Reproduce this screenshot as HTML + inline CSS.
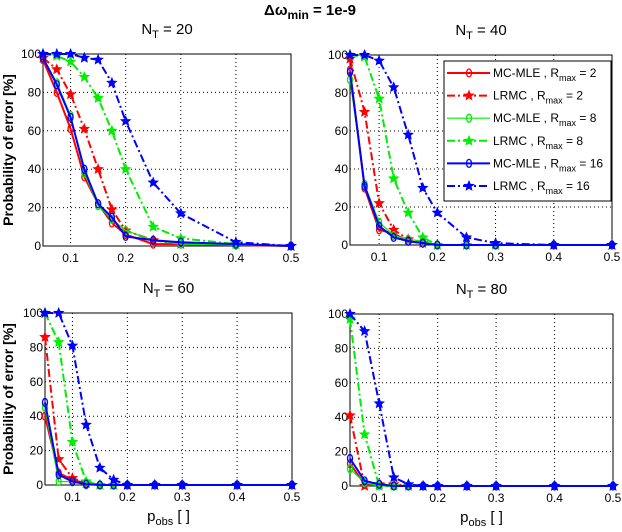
<!DOCTYPE html>
<html><head><meta charset="utf-8">
<style>
html,body{margin:0;padding:0;background:#fff;}
svg{display:block;font-family:"Liberation Sans",sans-serif;}
.tick{font-size:12px;fill:#000;}
.ttl{font-size:15px;font-weight:bold;}
.lbl{font-size:14px;font-weight:bold;}
.ptl{font-size:15px;}
.leg{font-size:12px;}
</style></head>
<body>
<svg id="chart" width="622" height="532" viewBox="0 0 622 532" xmlns="http://www.w3.org/2000/svg">
<text x="310" y="15" text-anchor="middle" class="ttl">Δω<tspan dy="4" font-size="12">min</tspan><tspan dy="-4"> = 1e-9</tspan></text>
</svg>
<script>
const xVals=[0.05,0.075,0.1,0.125,0.15,0.175,0.2,0.25,0.3,0.4,0.5];
const seriesNames=["MC-MLE , R","LRMC , R","MC-MLE , R","LRMC , R","MC-MLE , R","LRMC , R"];
const seriesR=["2","2","8","8","16","16"];
const panelTitles=["20","40","60","80"];
const yTicks=[0,20,40,60,80,100];
const xTicks=[0.1,0.2,0.3,0.4,0.5];
const p20=[[97,80,61,36,22,12,6,1,1,0.5,0],[98,92,79,61,40,19,8,3,1,1,0],[98,85,68,38,21,14,8,3,1,0.5,0],[100,99,96,88,77,60,40,10,4,1,0],[98,84,67,40,22,15,5,3,2,1,0],[100,100,100,98,97,85,65,33,17,2,0]];
const p40=[[92,30,8,6,2,1,0,0,0,0,0],[98,70,22,8,3,1,0,0,0,0,0],[87,32,12,5,3,2,0,0,0,0,0],[100,99,77,35,17,4,0,0,0,0,0],[91,31,10,4,2,1,0,0,0,0,0],[100,100,97,83,58,30,17,4,1,0,0]];
const p60=[[40,7,3,1,0,0,0,0,0,0,0],[86,15,4,1,0,0,0,0,0,0,0],[45,2,2,0,0,0,0,0,0,0,0],[100,83,25,2,0,0,0,0,0,0,0],[48,6,2,0.5,0,0,0,0,0,0,0],[100,100,81,35,10,3,0,0,0,0,0]];
const p80=[[13,1,1,0,0,0,0,0,0,0,0],[41,0,1,1,0,0,0,0,0,0,0],[10,2,0,0,0,0,0,0,0,0,0],[97,30,0,0,0,0,0,0,0,0,0],[16,3,1,0,0,0,0,0,0,0,0],[100,90,48,5,1,0,0,0,0,0,0]];
const panelData=[p20,p40,p60,p80];
const colors=["#ff0000","#ff0000","#00ee00","#00ee00","#0000ff","#0000ff"];
const boxes=[{x0:43,x1:291,y0:54,y1:246},{x0:350,x1:612,y0:55,y1:245},{x0:45,x1:292,y0:313,y1:485},{x0:350,x1:613,y0:314,y1:486}];
const NS="http://www.w3.org/2000/svg";
const svg=document.getElementById('chart');
function mk(t,a,p){const e=document.createElementNS(NS,t);for(const k in a)e.setAttribute(k,a[k]);(p||svg).appendChild(e);return e;}
function star(cx,cy,r){let s="";for(let i=0;i<10;i++){const a=-Math.PI/2+i*Math.PI/5;const rr=i%2?r*0.45:r;s+=(i?"L":"M")+(cx+rr*Math.cos(a)).toFixed(1)+","+(cy+rr*Math.sin(a)).toFixed(1);}return s+"Z";}
function marker(g,i,cx,cy){
  if(i%2===0){const m=mk('ellipse',{cx:cx,cy:cy,rx:2.5,ry:4,fill:'none',stroke:colors[i],'stroke-width':1.3},g);}
  else{const m=mk('path',{d:star(cx,cy,5),fill:colors[i],stroke:colors[i],'stroke-width':0.8},g);}
}
function dashFor(i){return i%2?"8,3,2,3":"none";}
function widthFor(i){return (i===2)?1.2:2;}
boxes.forEach((b,pi)=>{
  const g=mk('g',{});
  
  
  const sx=v=>b.x0+(v-0.05)/(0.45)*(b.x1-b.x0);
  const sy=v=>b.y1-v/100*(b.y1-b.y0);
  mk('rect',{x:b.x0,y:b.y0,width:b.x1-b.x0,height:b.y1-b.y0,fill:'#fff',stroke:'none'},g);
  xTicks.forEach(t=>{const x=sx(t);
    const l=mk('line',{x1:x,x2:x,y1:b.y0,y2:b.y1,stroke:'#000','stroke-dasharray':'1,3','stroke-width':1},g);
    
    const tx=mk('text',{x:x,y:b.y1+16,'text-anchor':'middle',class:'tick'},g);tx.textContent=String(t);
    });
  yTicks.forEach(t=>{const y=sy(t);
    if(t>0&&t<100){const l=mk('line',{x1:b.x0,x2:b.x1,y1:y,y2:y,stroke:'#000','stroke-dasharray':'1,3','stroke-width':1},g);
    }
    const tx=mk('text',{x:b.x0-2,y:y+4,'text-anchor':'end',class:'tick'},g);tx.textContent=String(t);
    });
  const fr=mk('rect',{x:b.x0,y:b.y0,width:b.x1-b.x0,height:b.y1-b.y0,fill:'none',stroke:'#000','stroke-width':1},g);
  
  const tt=mk('text',{x:(b.x0+b.x1)/2,y:b.y0-20,'text-anchor':'middle',class:'ptl'},g);
  tt.innerHTML='N<tspan dy="4" font-size="11">T</tspan><tspan dy="-4"> = '+panelTitles[pi]+'</tspan>';
  
  const data=panelData[pi];
  data.forEach((vals,si)=>{
    const d=vals.map((v,k)=>(k?"L":"M")+sx(xVals[k]).toFixed(1)+","+sy(v).toFixed(1)).join("");
    const p=mk('path',{d:d,fill:'none',stroke:colors[si],'stroke-width':widthFor(si),'stroke-dasharray':dashFor(si)},g);
    
    vals.forEach((v,k)=>marker(g,si,sx(xVals[k]),sy(v)));
  });
  if(pi===0||pi===2){
    const yl=mk('text',{x:0,y:0,'text-anchor':'middle',class:'lbl',transform:'translate(13,'+((b.y0+b.y1)/2)+') rotate(-90)'},g);
    yl.textContent='Probability of error [%]';
    
  }
  if(pi>=2){
    const xl=mk('text',{x:(b.x0+b.x1)/2,y:b.y1+36,'text-anchor':'middle','font-size':'15'},g);
    xl.innerHTML='p<tspan dy="4" font-size="11">obs</tspan><tspan dy="-4"> [ ]</tspan>';
    
  }
});
const lg=mk('g',{});


mk('rect',{x:444,y:61,width:167,height:140,fill:'#fff',stroke:'#000','stroke-width':1},lg);
seriesNames.forEach((n,i)=>{
  const y=73+i*22.6;
  const e=mk('g',{},lg);
  
  
  mk('line',{x1:447,x2:490,y1:y,y2:y,stroke:colors[i],'stroke-width':widthFor(i),'stroke-dasharray':dashFor(i)},e);
  marker(e,i,469,y);
  const t=mk('text',{x:493,y:y+4,class:'leg'},e);
  t.innerHTML=n+'<tspan dy="4" font-size="9">max</tspan><tspan dy="-4"> = '+seriesR[i]+'</tspan>';
});
</script>
</body></html>
